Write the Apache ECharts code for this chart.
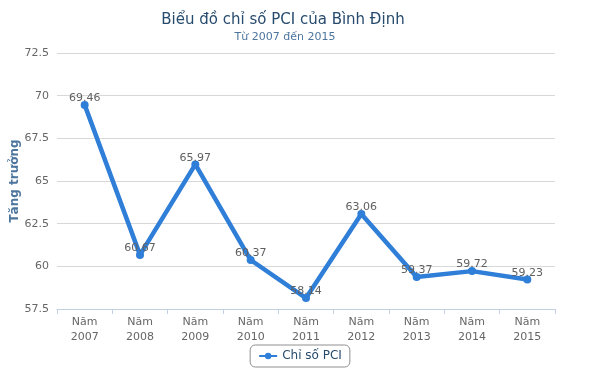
<!DOCTYPE html>
<html><head><meta charset="utf-8">
<script src="https://cdn.jsdelivr.net/npm/echarts@6/dist/echarts.min.js"></script>
<style>html,body{margin:0;padding:0;background:#fff}#c{width:600px;height:389px}</style>
</head><body><div id="c"></div>
<script>
const categories = ["Năm\n2007","Năm\n2008","Năm\n2009","Năm\n2010","Năm\n2011","Năm\n2012","Năm\n2013","Năm\n2014","Năm\n2015"];
const pciValues = [69.46, 60.67, 65.97, 60.37, 58.14, 63.06, 59.37, 59.72, 59.23];
const seriesName = "Chỉ số PCI";
const titleText = "Biểu đồ chỉ số PCI của Bình Định";
const subtitleText = "Từ 2007 đến 2015";
const yAxisName = "Tăng trưởng";

const font = "DejaVu Sans";
const chart = echarts.init(document.getElementById('c'), null, {renderer:'canvas'});
chart.setOption({
  animation: false,
  title: [
    {text: titleText, left: 278, top: 8, textAlign: 'center',
     textStyle: {fontFamily: font, fontSize: 15, fontWeight: 'normal', color: '#274b6d'}},
    {text: subtitleText, left: 280, top: 27, textAlign: 'center',
     textStyle: {fontFamily: font, fontSize: 11, fontWeight: 'normal', color: '#4d759e'}}
  ],
  legend: {
    data: [seriesName], bottom: 22, left: 'center',
    borderColor: '#909090', borderWidth: 1, borderRadius: 5, padding: [5, 8],
    itemWidth: 18, itemHeight: 8,
    textStyle: {fontFamily: font, fontSize: 12, color: '#274b6d'}
  },
  grid: {left: 57, right: 45, top: 53, bottom: 80, containLabel: false, outerBoundsMode: 'none'},
  xAxis: {
    type: 'category', data: categories, boundaryGap: true,
    axisLine: {lineStyle: {color: '#C0D0E0'}},
    axisTick: {show: true, length: 5, lineStyle: {color: '#C0D0E0'}},
    axisLabel: {fontFamily: font, fontSize: 11, color: '#666', lineHeight: 15, margin: 6}
  },
  yAxis: {
    type: 'value', min: 57.5, max: 72.5, interval: 2.5,
    name: yAxisName, nameLocation: 'middle', nameGap: 36, nameRotate: 90,
    nameMoveOverlap: false,
    nameTextStyle: {fontFamily: font, fontSize: 12, fontWeight: 'bold', color: '#4d759e'},
    axisLine: {show: false}, axisTick: {show: false},
    splitLine: {lineStyle: {color: '#D8D8D8', width: 1}},
    axisLabel: {fontFamily: font, fontSize: 11, color: '#666', margin: 8,
      formatter: v => String(v)}
  },
  series: [{
    name: seriesName, type: 'line', data: pciValues,
    symbol: 'circle', symbolSize: 8,
    lineStyle: {color: '#2f7ed8', width: 4.5},
    itemStyle: {color: '#2f7ed8'},
    label: {show: true, position: 'top', distance: -3, fontFamily: font, fontSize: 11, color: '#606060'}
  }]
});
</script></body></html>
